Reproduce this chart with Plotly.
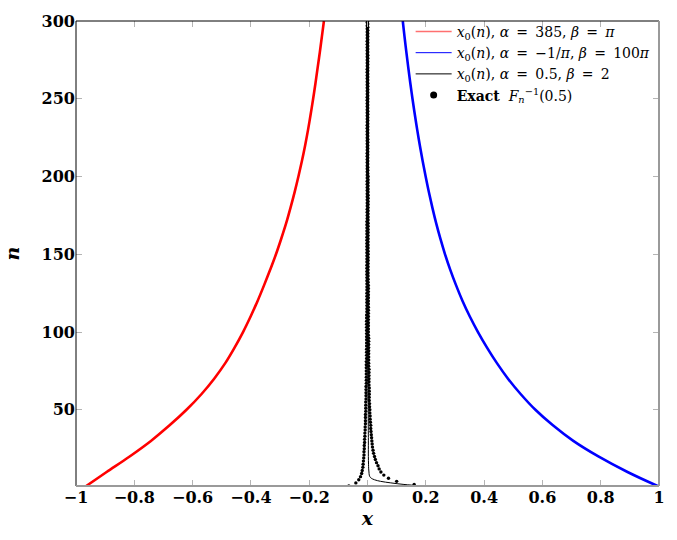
import plotly.graph_objects as go

# ---------------- data ----------------
n_samp = [1, 10, 20, 30, 40, 50, 60, 70, 80, 90, 100, 110, 120, 130, 140, 150,
          160, 170, 180, 190, 200, 210, 220, 230, 240, 250, 260, 270, 280, 290, 300]

x_red = [-0.965, -0.895, -0.816, -0.743, -0.679, -0.621, -0.570, -0.526, -0.488, -0.456,
         -0.427, -0.401, -0.377, -0.355, -0.334, -0.314, -0.296, -0.279, -0.264, -0.250,
         -0.237, -0.225, -0.214, -0.204, -0.195, -0.1865, -0.1785, -0.171, -0.1635, -0.1565, -0.1495]

x_blue = [0.995, 0.892, 0.792, 0.706, 0.636, 0.576, 0.526, 0.482, 0.444, 0.410,
          0.379, 0.351, 0.326, 0.304, 0.284, 0.266, 0.250, 0.2355, 0.2225, 0.2105,
          0.1995, 0.1892, 0.1796, 0.1706, 0.1622, 0.1543, 0.1469, 0.1399, 0.1333, 0.127, 0.121]

n_black = [1, 2, 3, 4, 5, 6, 7, 8, 10, 12, 15, 20, 30, 50, 100, 200, 300]
x_black = [0.190, 0.125, 0.080, 0.045, 0.024, 0.013, 0.008, 0.006, 0.005, 0.004,
           0.0035, 0.003, 0.003, 0.0025, 0.002, 0.002, 0.002]

# exact median F_n^{-1}(0.5), n = 1 .. 300
exact_median = [
    -0.064, 0.160, -0.040, 0.100, -0.030, 0.072, -0.024, 0.056, -0.020, 0.046,
    -0.018, 0.040, -0.016, 0.036, -0.015, 0.031, -0.014, 0.027, -0.013, 0.024,
    -0.012, 0.021, -0.012, 0.019, -0.011, 0.017, -0.011, 0.016, -0.010, 0.015,
    -0.010, 0.014, -0.009, 0.013, -0.009, 0.012, -0.008, 0.011, -0.008, 0.011,
    -0.007, 0.010, -0.007, 0.009, -0.007, 0.009, -0.007, 0.008, -0.006, 0.008,
    -0.006, 0.007, -0.006, 0.007, -0.006, 0.006, -0.005, 0.006, -0.005, 0.006,
    -0.005, 0.006, -0.005, 0.006, -0.005, 0.005, -0.004, 0.005, -0.004, 0.005,
    -0.004, 0.005, -0.004, 0.005, -0.004, 0.005, -0.004, 0.004, -0.004, 0.004,
    -0.004, 0.004, -0.003, 0.004, -0.003, 0.004, -0.003, 0.004, -0.003, 0.004,
    -0.003, 0.004, -0.003, 0.004, -0.003, 0.004, -0.003, 0.003, -0.003, 0.003,
    -0.003, 0.003, -0.003, 0.003, -0.003, 0.003, -0.003, 0.003, -0.003, 0.003,
    -0.003, 0.003, -0.002, 0.003, -0.002, 0.003, -0.002, 0.003, -0.002, 0.003,
    -0.002, 0.003, -0.002, 0.003, -0.002, 0.003, -0.002, 0.003, -0.002, 0.003,
    -0.002, 0.002, -0.002, 0.002, -0.002, 0.002, -0.002, 0.002, -0.002, 0.002,
    -0.002, 0.002, -0.002, 0.002, -0.002, 0.002, -0.002, 0.002, -0.002, 0.002,
    -0.002, 0.002, -0.002, 0.002, -0.002, 0.002, -0.002, 0.002, -0.002, 0.002,
    -0.002, 0.002, -0.002, 0.002, -0.002, 0.002, -0.002, 0.002, -0.002, 0.002,
    -0.002, 0.002, -0.001, 0.002, -0.001, 0.002, -0.001, 0.002, -0.001, 0.002,
    -0.001, 0.002, -0.001, 0.002, -0.001, 0.002, -0.001, 0.002, -0.001, 0.002,
    -0.001, 0.002, -0.001, 0.002, -0.001, 0.002, -0.001, 0.002, -0.001, 0.002,
    -0.001, 0.001, -0.001, 0.001, -0.001, 0.001, -0.001, 0.001, -0.001, 0.001,
    -0.001, 0.001, -0.001, 0.001, -0.001, 0.001, -0.001, 0.001, -0.001, 0.001,
    -0.001, 0.001, -0.001, 0.001, -0.001, 0.001, -0.001, 0.001, -0.001, 0.001,
    -0.001, 0.001, -0.001, 0.001, -0.001, 0.001, -0.001, 0.001, -0.001, 0.001,
    -0.001, 0.001, -0.001, 0.001, -0.001, 0.001, -0.001, 0.001, -0.001, 0.001,
    -0.001, 0.001, -0.001, 0.001, -0.001, 0.001, -0.001, 0.001, -0.001, 0.001,
    -0.001, 0.001, -0.001, 0.001, -0.001, 0.001, -0.001, 0.001, -0.001, 0.001,
    -0.001, 0.001, -0.001, 0.001, -0.001, 0.001, -0.001, 0.001, -0.001, 0.001,
    -0.001, 0.001, -0.001, 0.001, -0.001, 0.001, -0.001, 0.001, -0.001, 0.001,
    -0.001, 0.001, -0.001, 0.001, -0.001, 0.001, -0.001, 0.001, -0.001, 0.001,
]
n_exact = list(range(1, len(exact_median) + 1))

x_tickvals = [-1, -0.8, -0.6, -0.4, -0.2, 0, 0.2, 0.4, 0.6, 0.8, 1]
x_ticktext = ["\u22121", "\u22120.8", "\u22120.6", "\u22120.4", "\u22120.2", "0",
              "0.2", "0.4", "0.6", "0.8", "1"]
y_tickvals = [50, 100, 150, 200, 250, 300]

EQ = "\u2009=\u2009"
legend_names = [
    "<i>x</i><sub>0</sub>(<i>n</i>), <i>\u03b1</i> " + EQ + " 385, <i>\u03b2</i> " + EQ + " <i>\u03c0</i>",
    "<i>x</i><sub>0</sub>(<i>n</i>), <i>\u03b1</i> " + EQ + " \u22121/<i>\u03c0</i>, <i>\u03b2</i> " + EQ + " 100<i>\u03c0</i>",
    "<i>x</i><sub>0</sub>(<i>n</i>), <i>\u03b1</i> " + EQ + " 0.5, <i>\u03b2</i> " + EQ + " 2",
    "<b>Exact</b>  <i>F</i><sub><i>n</i></sub><sup>\u22121</sup>(0.5)",
]

# ---------------- figure ----------------
fig = go.Figure()

fig.add_trace(go.Scatter(x=x_red, y=n_samp, mode="lines",
                         line=dict(color="#ff0000", width=2.6, shape="spline", smoothing=1.0),
                         showlegend=False, hoverinfo="skip"))
fig.add_trace(go.Scatter(x=x_blue, y=n_samp, mode="lines",
                         line=dict(color="#0000ff", width=2.6, shape="spline", smoothing=1.0),
                         showlegend=False, hoverinfo="skip"))
fig.add_trace(go.Scatter(x=x_black, y=n_black, mode="lines",
                         line=dict(color="#000000", width=1, shape="spline"),
                         showlegend=False, hoverinfo="skip"))
fig.add_trace(go.Scatter(x=exact_median, y=n_exact, mode="markers",
                         marker=dict(color="#000000", size=3.4), showlegend=False, hoverinfo="skip"))

# legend-only entries
fig.add_trace(go.Scatter(x=[None], y=[None], mode="lines", line=dict(color="#ff7070", width=1.5), name=legend_names[0]))
fig.add_trace(go.Scatter(x=[None], y=[None], mode="lines", line=dict(color="#0000ff", width=1), name=legend_names[1]))
fig.add_trace(go.Scatter(x=[None], y=[None], mode="lines", line=dict(color="#000000", width=1), name=legend_names[2]))
fig.add_trace(go.Scatter(x=[None], y=[None], mode="markers", marker=dict(color="#000000", size=7), name=legend_names[3]))

tickfont = dict(family="DejaVu Serif", size=16, color="black", weight="bold")

fig.update_layout(
    width=677, height=540,
    margin=dict(l=73, r=13, t=14, b=54),
    paper_bgcolor="white", plot_bgcolor="white",
    showlegend=True,
    legend=dict(x=0.574, y=1.011, xanchor="left", yanchor="top", bgcolor="rgba(0,0,0,0)",
                font=dict(family="DejaVu Serif", size=14, color="black"),
                tracegroupgap=0, itemwidth=36),
    xaxis=dict(range=[-1, 1], tickvals=x_tickvals, ticktext=x_ticktext, ticks="inside", ticklen=6,
               tickcolor="#b4b4b4", tickwidth=1, mirror="ticks", showgrid=False, zeroline=False,
               showline=False, tickfont=tickfont,
               title=dict(text="<b><i>x</i></b>", font=dict(family="DejaVu Serif", size=19, color="black"),
                          standoff=4)),
    yaxis=dict(range=[1, 300], tickvals=y_tickvals, ticks="inside", ticklen=6,
               tickcolor="#b4b4b4", tickwidth=1, mirror="ticks", showgrid=False, zeroline=False,
               showline=False, tickfont=tickfont,
               title=dict(text="<b><i>n</i></b>", font=dict(family="DejaVu Serif", size=19, color="black"),
                          standoff=16)),
)

# frame
fig.add_shape(type="line", xref="paper", yref="paper", x0=0, x1=1, y0=1, y1=1, line=dict(color="#000000", width=1))
fig.add_shape(type="line", xref="paper", yref="paper", x0=0, x1=0, y0=0, y1=1, line=dict(color="#000000", width=1))
fig.add_shape(type="line", xref="paper", yref="paper", x0=0, x1=1, y0=0, y1=0, line=dict(color="#9a9a9a", width=2))
fig.add_shape(type="line", xref="paper", yref="paper", x0=1, x1=1, y0=0, y1=1, line=dict(color="#9a9a9a", width=2))

fig.write_html("out.html")
